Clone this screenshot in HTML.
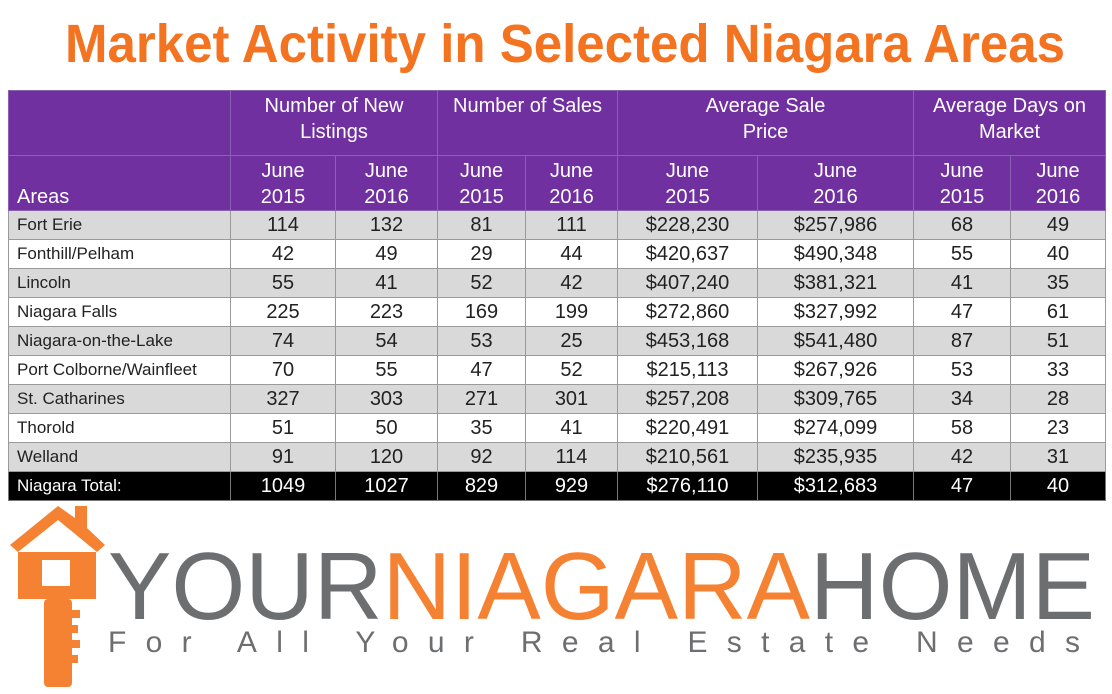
<!DOCTYPE html>
<html><head><meta charset="utf-8"><style>
body{margin:0;width:1112px;height:694px;background:#fff;position:relative;overflow:hidden;font-family:"Liberation Sans",sans-serif}
svg{position:absolute;left:0;top:0}
table{position:absolute;left:8px;top:90px;border-collapse:collapse;table-layout:fixed}
td{border:1px solid #9a9a9a;padding:0;text-align:center;font-size:20px;color:#222;height:28px;line-height:28px}
.h td{background:#7030a0;color:#fff;font-size:20px;line-height:26px;border-color:#8a60b0}
.h1 td{height:62px;vertical-align:top;padding-top:2px}
.h2 td{height:54px;vertical-align:bottom}
td.a{text-align:left;padding-left:8px;font-size:17px}
tr.g td{background:#d9d9d9}
tr.t td{background:#000;color:#fff;border-color:#777}
</style></head><body>
<svg width="1112" height="694">
<text x="65" y="62" textLength="1000" lengthAdjust="spacingAndGlyphs" font-family="Liberation Sans" font-weight="bold" font-size="54" fill="#f47320">Market Activity in Selected Niagara Areas</text>
<g fill="#f58232">
<polygon points="10,545 58,506 75,518 75,506 87,506 87,528 105,545 97,552 58,520 18,552"/>
<rect x="18" y="552" width="78" height="47"/>
<rect x="42" y="560" width="28" height="26" fill="#fff"/>
<rect x="44" y="599" width="28" height="88" rx="4"/>
<rect x="72" y="610" width="8" height="8"/><rect x="72" y="625" width="6" height="8"/><rect x="72" y="640" width="8" height="8"/><rect x="72" y="655" width="6" height="8"/>
</g>
<text x="108" y="619" textLength="987" lengthAdjust="spacingAndGlyphs" font-family="Liberation Sans" font-size="96" fill="#6d6e70"><tspan>YOUR</tspan><tspan fill="#f58232">NIAGARA</tspan><tspan>HOME</tspan></text>
<text x="108" y="652" textLength="972" lengthAdjust="spacing" font-family="Liberation Sans" font-size="30" fill="#6d6e70">For All Your Real Estate Needs</text>
</svg>
<table>
<colgroup><col style="width:222px"><col style="width:105px"><col style="width:102px"><col style="width:88px"><col style="width:92px"><col style="width:140px"><col style="width:156px"><col style="width:97px"><col style="width:95px"></colgroup>
<tr class="h h1"><td></td><td colspan="2">Number of New<br>Listings</td><td colspan="2">Number of Sales</td><td colspan="2">Average Sale<br>Price</td><td colspan="2">Average Days on<br>Market</td></tr>
<tr class="h h2"><td class="a" style="font-size:20px">Areas</td><td>June<br>2015</td><td>June<br>2016</td><td>June<br>2015</td><td>June<br>2016</td><td>June<br>2015</td><td>June<br>2016</td><td>June<br>2015</td><td>June<br>2016</td></tr>
<tr class="g"><td class="a">Fort Erie</td><td>114</td><td>132</td><td>81</td><td>111</td><td>$228,230</td><td>$257,986</td><td>68</td><td>49</td></tr>
<tr><td class="a">Fonthill/Pelham</td><td>42</td><td>49</td><td>29</td><td>44</td><td>$420,637</td><td>$490,348</td><td>55</td><td>40</td></tr>
<tr class="g"><td class="a">Lincoln</td><td>55</td><td>41</td><td>52</td><td>42</td><td>$407,240</td><td>$381,321</td><td>41</td><td>35</td></tr>
<tr><td class="a">Niagara Falls</td><td>225</td><td>223</td><td>169</td><td>199</td><td>$272,860</td><td>$327,992</td><td>47</td><td>61</td></tr>
<tr class="g"><td class="a">Niagara-on-the-Lake</td><td>74</td><td>54</td><td>53</td><td>25</td><td>$453,168</td><td>$541,480</td><td>87</td><td>51</td></tr>
<tr><td class="a">Port Colborne/Wainfleet</td><td>70</td><td>55</td><td>47</td><td>52</td><td>$215,113</td><td>$267,926</td><td>53</td><td>33</td></tr>
<tr class="g"><td class="a">St. Catharines</td><td>327</td><td>303</td><td>271</td><td>301</td><td>$257,208</td><td>$309,765</td><td>34</td><td>28</td></tr>
<tr><td class="a">Thorold</td><td>51</td><td>50</td><td>35</td><td>41</td><td>$220,491</td><td>$274,099</td><td>58</td><td>23</td></tr>
<tr class="g"><td class="a">Welland</td><td>91</td><td>120</td><td>92</td><td>114</td><td>$210,561</td><td>$235,935</td><td>42</td><td>31</td></tr>
<tr class="t"><td class="a">Niagara Total:</td><td>1049</td><td>1027</td><td>829</td><td>929</td><td>$276,110</td><td>$312,683</td><td>47</td><td>40</td></tr>
</table>
</body></html>
